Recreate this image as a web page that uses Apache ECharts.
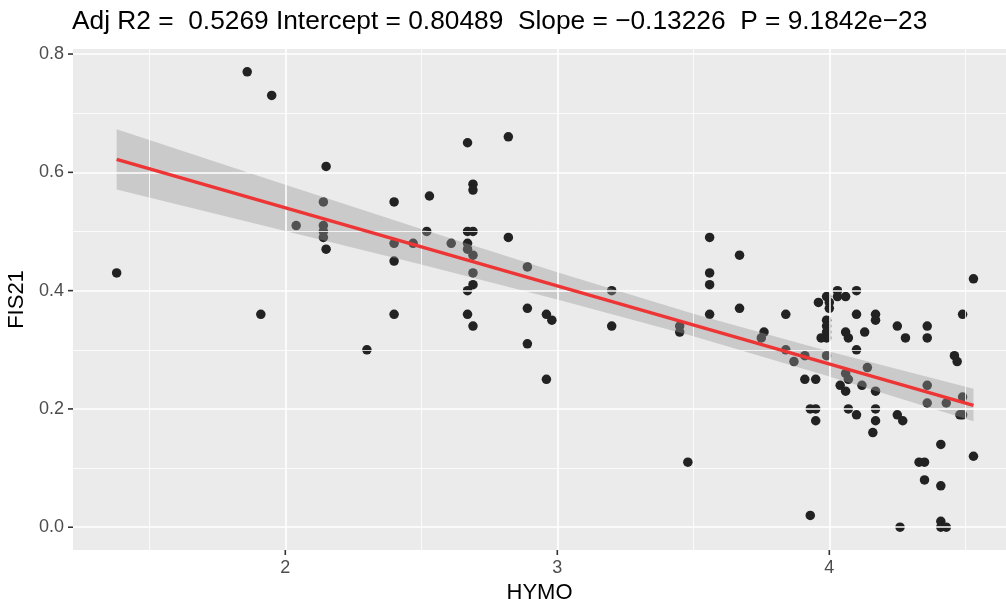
<!DOCTYPE html>
<html><head><meta charset="utf-8">
<script src="https://cdn.jsdelivr.net/npm/echarts@6/dist/echarts.min.js"></script>
<style>html,body{margin:0;padding:0;background:#fff}#c{width:1006px;height:599px}</style>
</head><body><div id="c"></div>
<script>
// Observations (HYMO, FIS21)
const hymo = [1.38,1.86,1.91,1.95,2.04,2.14,2.14,2.14,2.14,2.15,2.15,2.30,2.40,2.40,2.40,2.40,2.47,2.52,2.53,2.61,
  2.67,2.67,2.69,2.67,2.67,2.67,2.67,2.69,2.69,2.69,2.69,2.69,2.69,2.82,2.82,2.89,2.89,2.89,2.96,2.98,
  2.96,3.20,3.20,3.45,3.45,3.48,3.56,3.56,3.56,3.56,3.67,3.67,3.76,3.75,3.84,3.84,3.87,3.91,3.91,3.95,
  3.93,3.95,3.95,3.93,3.96,3.99,4.00,4.00,3.99,3.99,3.99,3.99,3.97,3.99,4.03,4.03,4.06,4.10,4.10,4.06,
  4.07,4.13,4.10,4.17,4.17,4.25,4.28,4.36,4.36,4.14,4.06,4.07,4.04,4.06,4.12,4.17,4.07,4.10,4.17,4.17,
  4.16,4.25,4.27,4.36,4.36,4.43,4.49,4.48,4.49,4.46,4.47,4.49,4.53,4.53,4.41,4.33,4.35,4.35,4.41,4.26,
  4.41,4.41,4.43];
const fis21 = [0.43,0.77,0.36,0.73,0.51,0.55,0.51,0.50,0.49,0.61,0.47,0.30,0.55,0.48,0.45,0.36,0.48,0.50,0.56,0.48,
  0.65,0.50,0.50,0.48,0.47,0.40,0.36,0.58,0.57,0.46,0.43,0.41,0.34,0.66,0.49,0.44,0.37,0.31,0.36,0.35,
  0.25,0.40,0.34,0.34,0.33,0.11,0.49,0.43,0.41,0.36,0.46,0.37,0.33,0.32,0.36,0.30,0.28,0.29,0.25,0.25,
  0.20,0.20,0.18,0.02,0.38,0.39,0.38,0.37,0.35,0.34,0.33,0.32,0.32,0.29,0.40,0.39,0.39,0.40,0.36,0.33,
  0.32,0.33,0.30,0.36,0.35,0.34,0.32,0.34,0.32,0.27,0.26,0.25,0.24,0.23,0.24,0.23,0.20,0.19,0.20,0.18,
  0.16,0.19,0.18,0.24,0.21,0.21,0.22,0.19,0.19,0.29,0.28,0.36,0.42,0.12,0.14,0.11,0.11,0.08,0.07,0.00,
  0.01,0.00,0.00];
// Fitted line and its confidence band
const fitX = [1.38, 4.53];
const fitY = [0.622, 0.206];
const bandX = [1.38, 2.0, 2.5, 3.0, 3.5, 4.0, 4.53];
const bandLower = [0.571, 0.501, 0.444, 0.385, 0.323, 0.255, 0.179];
const bandUpper = [0.673, 0.579, 0.504, 0.431, 0.361, 0.297, 0.234];
// Axis ticks
const xTicks = [2, 3, 4];
const xMinor = [1.5, 2.5, 3.5, 4.5];
const yTicks = [0, 0.2, 0.4, 0.6, 0.8];
const yMinor = [0.1, 0.3, 0.5, 0.7];
const titleText = 'Adj R2 =  0.5269 Intercept = 0.80489  Slope = \u22120.13226  P = 9.1842e\u221223';

const X_MIN = 1.2195, X_MAX = 4.6496, Y_MIN = -0.0385, Y_MAX = 0.8085;
const FONT = '"Liberation Sans", Arial, Helvetica, sans-serif';
const chart = echarts.init(document.getElementById('c'), null, {renderer: 'canvas'});

const gridLines = [];
const thin = {color: '#ffffff', width: 0.8, type: 'solid'};
const thick = {color: '#ffffff', width: 1.6, type: 'solid'};
xMinor.forEach(v => gridLines.push({xAxis: v, lineStyle: thin}));
yMinor.forEach(v => gridLines.push({yAxis: v, lineStyle: thin}));
xTicks.forEach(v => gridLines.push({xAxis: v, lineStyle: thick}));
yTicks.forEach(v => gridLines.push({yAxis: v, lineStyle: thick}));

chart.setOption({
  animation: false,
  backgroundColor: '#ffffff',
  title: {
    text: titleText, left: 67, top: 4,
    textStyle: {fontFamily: FONT, fontSize: 26.3, fontWeight: 'normal', color: '#000'}
  },
  grid: {left: 73, right: 0, top: 49, bottom: 49, show: true, backgroundColor: '#EBEBEB', borderWidth: 0,
    containLabel: false, outerBoundsMode: 'none'},
  xAxis: {
    type: 'value', min: X_MIN, max: X_MAX,
    splitLine: {show: false},
    axisLine: {show: false, onZero: false},
    axisTick: {show: false},
    axisLabel: {customValues: xTicks, color: '#4D4D4D', fontSize: 18, margin: 9, fontFamily: FONT},
    name: 'HYMO', nameLocation: 'middle', nameGap: 30,
    nameTextStyle: {fontFamily: FONT, fontSize: 22, color: '#000'}
  },
  yAxis: {
    type: 'value', min: Y_MIN, max: Y_MAX,
    splitLine: {show: false},
    axisLine: {show: false, onZero: false},
    axisTick: {show: false},
    axisLabel: {customValues: yTicks, color: '#4D4D4D', fontSize: 18, margin: 9, fontFamily: FONT,
      formatter: v => Number(v).toFixed(1)},
    name: 'FIS21', nameLocation: 'middle', nameGap: 33, nameRotate: 90,
    nameTextStyle: {fontFamily: FONT, fontSize: 22, color: '#000'}
  },
  series: [
    {
      type: 'line', data: [], z: 1, silent: true,
      markLine: {silent: true, symbol: 'none', label: {show: false}, animation: false,
        lineStyle: {type: 'solid', color: '#fff'}, data: gridLines}
    },
    {
      type: 'scatter', z: 3, symbolSize: 9.5, silent: true,
      itemStyle: {color: '#222222', opacity: 1},
      data: hymo.map((x, i) => [x, fis21[i]])
    },
    {
      type: 'custom', z: 4, silent: true,
      data: [[bandX[0], bandUpper[0]]],
      renderItem: function (params, api) {
        const pts = [];
        for (let i = 0; i < bandX.length; i++) pts.push(api.coord([bandX[i], bandUpper[i]]));
        for (let i = bandX.length - 1; i >= 0; i--) pts.push(api.coord([bandX[i], bandLower[i]]));
        return {type: 'polygon', shape: {points: pts}, style: {fill: 'rgba(153,153,153,0.4)'}};
      }
    },
    {
      type: 'line', z: 5, silent: true, symbol: 'none',
      lineStyle: {color: '#EE3535', width: 3.5},
      data: fitX.map((x, i) => [x, fitY[i]])
    }
  ]
});

// Tick marks outside the panel, placed through the axes' own scales
const tickStyle = {stroke: '#333333', lineWidth: 1.6};
const ticks = [];
xTicks.forEach(v => {
  const p = chart.convertToPixel({gridIndex: 0}, [v, Y_MIN]);
  ticks.push({type: 'line', silent: true, z: 10, shape: {x1: p[0], y1: p[1], x2: p[0], y2: p[1] + 5}, style: tickStyle});
});
yTicks.forEach(v => {
  const p = chart.convertToPixel({gridIndex: 0}, [X_MIN, v]);
  ticks.push({type: 'line', silent: true, z: 10, shape: {x1: p[0] - 5, y1: p[1], x2: p[0], y2: p[1]}, style: tickStyle});
});
chart.setOption({graphic: ticks});
</script></body></html>
